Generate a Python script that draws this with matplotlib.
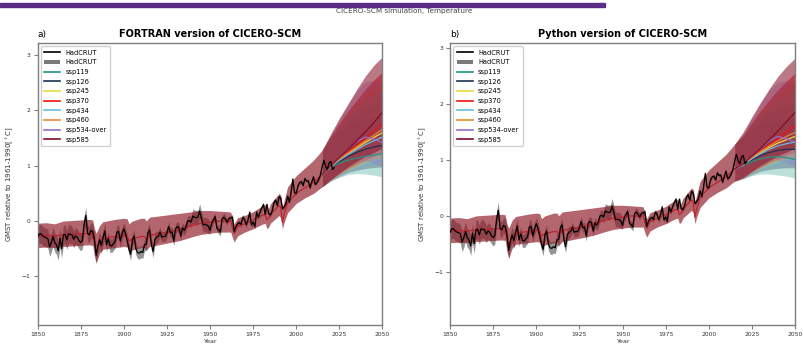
import numpy as np
import matplotlib
matplotlib.use("Agg")
import matplotlib.pyplot as plt
from matplotlib.lines import Line2D
from matplotlib.patches import Patch, Rectangle

plt.rcParams['font.family'] = ['DejaVu Sans']

# ---------------- observations (HadCRUT, annual, relative to 1961-1990) ----------------
hadcrut_years = list(range(1850, 2023))
hadcrut = [
    -0.30, -0.23, -0.23, -0.27, -0.29, -0.30, -0.32, -0.47, -0.39, -0.28,
    -0.39, -0.43, -0.54, -0.31, -0.50, -0.25, -0.24, -0.34, -0.23, -0.24,
    -0.25, -0.33, -0.27, -0.29, -0.35, -0.39, -0.35, -0.06, 0.10, -0.22,
    -0.25, -0.17, -0.19, -0.33, -0.62, -0.45, -0.34, -0.44, -0.30, -0.18,
    -0.43, -0.32, -0.44, -0.45, -0.41, -0.37, -0.20, -0.19, -0.36, -0.23,
    -0.14, -0.22, -0.36, -0.50, -0.60, -0.34, -0.27, -0.50, -0.57, -0.58,
    -0.55, -0.57, -0.43, -0.42, -0.21, -0.16, -0.42, -0.55, -0.34, -0.29,
    -0.28, -0.20, -0.29, -0.28, -0.28, -0.22, -0.10, -0.21, -0.20, -0.36,
    -0.14, -0.10, -0.12, -0.27, -0.12, -0.17, -0.11, 0.00, 0.01, -0.02,
    0.09, 0.07, 0.06, 0.07, 0.18, 0.05, -0.07, -0.06, -0.07, -0.09,
    -0.17, -0.03, 0.02, 0.08, -0.13, -0.16, -0.20, 0.04, 0.07, 0.03,
    -0.02, 0.05, 0.05, 0.07, -0.19, -0.10, -0.05, -0.03, -0.06, 0.07,
    0.03, -0.07, 0.02, 0.16, -0.07, -0.02, -0.10, 0.16, 0.07, 0.16,
    0.24, 0.30, 0.12, 0.30, 0.13, 0.11, 0.18, 0.33, 0.38, 0.28,
    0.44, 0.41, 0.22, 0.26, 0.31, 0.45, 0.34, 0.52, 0.76, 0.51,
    0.50, 0.64, 0.70, 0.71, 0.64, 0.77, 0.72, 0.73, 0.60, 0.71,
    0.80, 0.66, 0.70, 0.75, 0.83, 0.98, 1.10, 0.99, 0.93, 1.05,
    1.08, 0.93, 0.97,
]
# half-width of the HadCRUT uncertainty range, per decade (1850s ... 2020s)
hadcrut_unc_decadal = [0.17, 0.17, 0.15, 0.14, 0.12, 0.11, 0.11, 0.09, 0.09,
                       0.13, 0.07, 0.05, 0.05, 0.04, 0.04, 0.03, 0.03, 0.03]

# ---------------- CICERO-SCM historical ensemble (median and 5-95 % range) ----------------
hist_years = [1850, 1855, 1860, 1865, 1870, 1875, 1880, 1882, 1883, 1884, 1886, 1888,
              1890, 1895, 1900, 1902, 1903, 1905, 1910, 1912, 1913, 1915, 1920, 1925,
              1930, 1935, 1940, 1945, 1950, 1955, 1960, 1962, 1963, 1964, 1966, 1970,
              1975, 1980, 1982, 1983, 1984, 1985, 1990, 1991, 1992, 1993, 1995, 2000,
              2005, 2010, 2015]
hist_med = [-0.27, -0.26, -0.27, -0.25, -0.24, -0.23, -0.23, -0.24, -0.42, -0.55, -0.38, -0.31,
            -0.30, -0.28, -0.26, -0.27, -0.36, -0.32, -0.28, -0.28, -0.33, -0.26, -0.23, -0.20,
            -0.17, -0.13, -0.08, -0.04, -0.02, 0.00, 0.00, 0.00, -0.12, -0.22, -0.10, -0.05,
            0.02, 0.10, 0.12, 0.02, 0.05, 0.12, 0.28, 0.25, -0.02, 0.12, 0.33, 0.50,
            0.60, 0.70, 0.84]
hist_lo = [-0.48, -0.47, -0.48, -0.46, -0.45, -0.44, -0.43, -0.44, -0.64, -0.76, -0.58, -0.51,
           -0.50, -0.48, -0.46, -0.47, -0.56, -0.52, -0.48, -0.48, -0.53, -0.46, -0.43, -0.40,
           -0.37, -0.33, -0.28, -0.24, -0.22, -0.20, -0.20, -0.20, -0.30, -0.38, -0.27, -0.20,
           -0.14, -0.06, -0.04, -0.14, -0.11, -0.04, 0.10, 0.06, -0.14, -0.02, 0.15, 0.32,
           0.42, 0.50, 0.62]
hist_hi = [-0.04, -0.03, -0.05, 0.00, 0.01, 0.02, 0.03, 0.02, -0.14, -0.22, -0.08, -0.01,
           0.00, 0.03, 0.05, 0.04, -0.05, 0.00, 0.05, 0.05, 0.00, 0.07, 0.09, 0.11,
           0.13, 0.15, 0.17, 0.19, 0.19, 0.18, 0.17, 0.16, 0.05, -0.05, 0.06, 0.10,
           0.17, 0.27, 0.30, 0.20, 0.23, 0.31, 0.50, 0.47, 0.24, 0.38, 0.62, 0.82,
           0.96, 1.10, 1.28]

# ---------------- scenario projections ----------------
proj_years = [2020, 2025, 2030, 2035, 2040, 2045, 2050]
scenarios = ['ssp119', 'ssp126', 'ssp245', 'ssp370', 'ssp434', 'ssp460', 'ssp534-over', 'ssp585']
scenario_colors = ['#1e9583', '#1d3354', '#e9dc3d', '#f11111', '#63bce4', '#e78731', '#996dc8', '#830b22']

# FORTRAN version
fortran_med = {
    'ssp119':      [0.97, 1.05, 1.10, 1.14, 1.17, 1.19, 1.22],
    'ssp126':      [0.98, 1.08, 1.17, 1.24, 1.30, 1.34, 1.37],
    'ssp245':      [0.99, 1.11, 1.22, 1.32, 1.42, 1.51, 1.60],
    'ssp370':      [0.99, 1.12, 1.25, 1.37, 1.50, 1.63, 1.76],
    'ssp434':      [0.98, 1.10, 1.20, 1.29, 1.38, 1.45, 1.52],
    'ssp460':      [0.99, 1.12, 1.23, 1.34, 1.45, 1.55, 1.66],
    'ssp534-over': [1.00, 1.15, 1.30, 1.44, 1.52, 1.48, 1.42],
    'ssp585':      [1.00, 1.15, 1.30, 1.45, 1.61, 1.78, 1.97],
}
fortran_lo = {
    'ssp119':      [0.72, 0.79, 0.84, 0.86, 0.85, 0.83, 0.80],
    'ssp126':      [0.73, 0.81, 0.88, 0.92, 0.95, 0.97, 0.98],
    'ssp245':      [0.74, 0.84, 0.92, 0.99, 1.05, 1.10, 1.14],
    'ssp370':      [0.74, 0.85, 0.95, 1.03, 1.11, 1.18, 1.25],
    'ssp434':      [0.73, 0.83, 0.90, 0.96, 1.01, 1.04, 1.07],
    'ssp460':      [0.74, 0.85, 0.93, 1.00, 1.07, 1.12, 1.18],
    'ssp534-over': [0.74, 0.86, 0.97, 1.06, 1.09, 1.04, 0.99],
    'ssp585':      [0.75, 0.87, 0.98, 1.08, 1.17, 1.24, 1.32],
}
fortran_hi = {
    'ssp119':      [1.48, 1.62, 1.72, 1.79, 1.84, 1.87, 1.89],
    'ssp126':      [1.50, 1.68, 1.83, 1.95, 2.04, 2.11, 2.16],
    'ssp245':      [1.52, 1.74, 1.93, 2.10, 2.25, 2.38, 2.50],
    'ssp370':      [1.53, 1.77, 1.99, 2.19, 2.38, 2.55, 2.70],
    'ssp434':      [1.51, 1.72, 1.90, 2.05, 2.18, 2.29, 2.38],
    'ssp460':      [1.52, 1.75, 1.96, 2.14, 2.30, 2.45, 2.58],
    'ssp534-over': [1.56, 1.84, 2.10, 2.35, 2.52, 2.55, 2.52],
    'ssp585':      [1.58, 1.86, 2.12, 2.38, 2.62, 2.82, 2.97],
}

# Python version
python_med = {
    'ssp119':      [0.90, 0.97, 1.02, 1.05, 1.06, 1.04, 1.01],
    'ssp126':      [0.91, 1.00, 1.08, 1.13, 1.17, 1.19, 1.19],
    'ssp245':      [0.92, 1.03, 1.13, 1.22, 1.30, 1.36, 1.42],
    'ssp370':      [0.92, 1.04, 1.16, 1.27, 1.38, 1.50, 1.61],
    'ssp434':      [0.91, 1.02, 1.11, 1.19, 1.25, 1.29, 1.32],
    'ssp460':      [0.92, 1.04, 1.15, 1.25, 1.34, 1.42, 1.49],
    'ssp534-over': [0.93, 1.07, 1.21, 1.34, 1.42, 1.38, 1.32],
    'ssp585':      [0.93, 1.07, 1.21, 1.36, 1.51, 1.68, 1.85],
}
python_lo = {
    'ssp119':      [0.66, 0.72, 0.75, 0.75, 0.73, 0.71, 0.68],
    'ssp126':      [0.67, 0.74, 0.80, 0.83, 0.85, 0.86, 0.86],
    'ssp245':      [0.68, 0.77, 0.85, 0.91, 0.96, 1.00, 1.03],
    'ssp370':      [0.68, 0.78, 0.87, 0.95, 1.02, 1.08, 1.14],
    'ssp434':      [0.67, 0.76, 0.83, 0.88, 0.92, 0.94, 0.96],
    'ssp460':      [0.68, 0.78, 0.86, 0.93, 0.99, 1.03, 1.07],
    'ssp534-over': [0.68, 0.79, 0.89, 0.98, 1.00, 0.95, 0.90],
    'ssp585':      [0.69, 0.80, 0.90, 0.99, 1.07, 1.14, 1.21],
}
python_hi = {
    'ssp119':      [1.40, 1.53, 1.62, 1.68, 1.71, 1.73, 1.74],
    'ssp126':      [1.42, 1.59, 1.73, 1.84, 1.92, 1.98, 2.01],
    'ssp245':      [1.43, 1.64, 1.83, 1.99, 2.13, 2.25, 2.35],
    'ssp370':      [1.44, 1.67, 1.88, 2.07, 2.25, 2.41, 2.55],
    'ssp434':      [1.43, 1.62, 1.80, 1.94, 2.06, 2.16, 2.24],
    'ssp460':      [1.43, 1.65, 1.85, 2.02, 2.18, 2.31, 2.43],
    'ssp534-over': [1.48, 1.75, 2.00, 2.24, 2.39, 2.42, 2.38],
    'ssp585':      [1.50, 1.77, 2.03, 2.27, 2.49, 2.67, 2.82],
}

panels = [
    ('a)', 'FORTRAN version of CICERO-SCM', fortran_med, fortran_lo, fortran_hi, (-1.88, 3.22)),
    ('b)', 'Python version of CICERO-SCM', python_med, python_lo, python_hi, (-1.95, 3.09)),
]

# ---------------- figure ----------------
fig = plt.figure(figsize=(8.04, 3.5), dpi=100)
fig.patches.append(Rectangle((0, 1 - 7 / 350), 605 / 804, 3.5 / 350,
                             transform=fig.transFigure, color='#5b2c86', zorder=5))
fig.text(0.503, 1 - 11.5 / 350, 'CICERO-SCM simulation, Temperature',
         ha='center', va='center', fontsize=5.2, color='#444444')

axes_lefts = [37.5 / 804, 450 / 804]
hc_years = np.array(hadcrut_years)
hc = np.array(hadcrut)
hc_unc = np.repeat(hadcrut_unc_decadal, 10)[:len(hc)]

spine_col = '#7f7f7f'
for (tag, title, med, lo, hi, ylim), left in zip(panels, axes_lefts):
    ax = fig.add_axes([left, 25 / 350, 345 / 804, 282 / 350])

    # observations
    ax.fill_between(hc_years, hc - hc_unc, hc + hc_unc, color='#7a7a7a', alpha=0.8,
                    lw=0, zorder=1)
    ax.plot(hc_years, hc, color='black', lw=0.9, zorder=5)

    # historical model ensemble
    ax.fill_between(hist_years, hist_lo, hist_hi, color='#8f1d28', alpha=0.68,
                    lw=0, zorder=2)
    ax.plot(hist_years, hist_med, color='#c0222c', lw=0.9, zorder=4)

    # scenario projections, starting from the end of the historical run
    for name, col in zip(scenarios, scenario_colors):
        yrs = hist_years[-1:] + proj_years
        m = hist_med[-1:] + med[name]
        l = hist_lo[-1:] + lo[name]
        h = hist_hi[-1:] + hi[name]
        a = 0.55 if name in ('ssp370', 'ssp585') else 0.3
        ax.fill_between(yrs, l, h, color=col, alpha=a, lw=0, zorder=2)
        ax.plot(yrs, m, color=col, lw=0.9, zorder=3)

    ax.set_xlim(1850, 2050)
    ax.set_ylim(*ylim)
    ax.set_xticks(range(1850, 2051, 25))
    ax.set_yticks([-1, 0, 1, 2, 3])
    ax.tick_params(labelsize=4.3, length=3, width=0.8, color=spine_col,
                   labelcolor='#333333', pad=2)
    for s in ax.spines.values():
        s.set_color(spine_col)
        s.set_linewidth(1.0)
    ax.set_xlabel('Year', fontsize=4.6, labelpad=1.5, color='#333333')
    ax.set_ylabel(r'GMST relative to 1961-1990[$^\circ$C]', fontsize=5.0, labelpad=4,
                  color='#333333')
    ax.set_title(title, fontsize=7, fontweight='bold', pad=4)
    ax.set_title(tag, fontsize=6.5, loc='left', pad=4)

    handles = [Line2D([], [], color='black', lw=1.2),
               Patch(facecolor='#7a7a7a', edgecolor='none')]
    handles += [Line2D([], [], color=c, lw=1.2) for c in scenario_colors]
    labels = ['HadCRUT', 'HadCRUT'] + scenarios
    ax.legend(handles, labels, loc='upper left', fontsize=4.8, labelspacing=0.55,
              handlelength=2.4, borderpad=0.5, framealpha=0.9, edgecolor='#cccccc')

fig.savefig('out.png', dpi=100)
